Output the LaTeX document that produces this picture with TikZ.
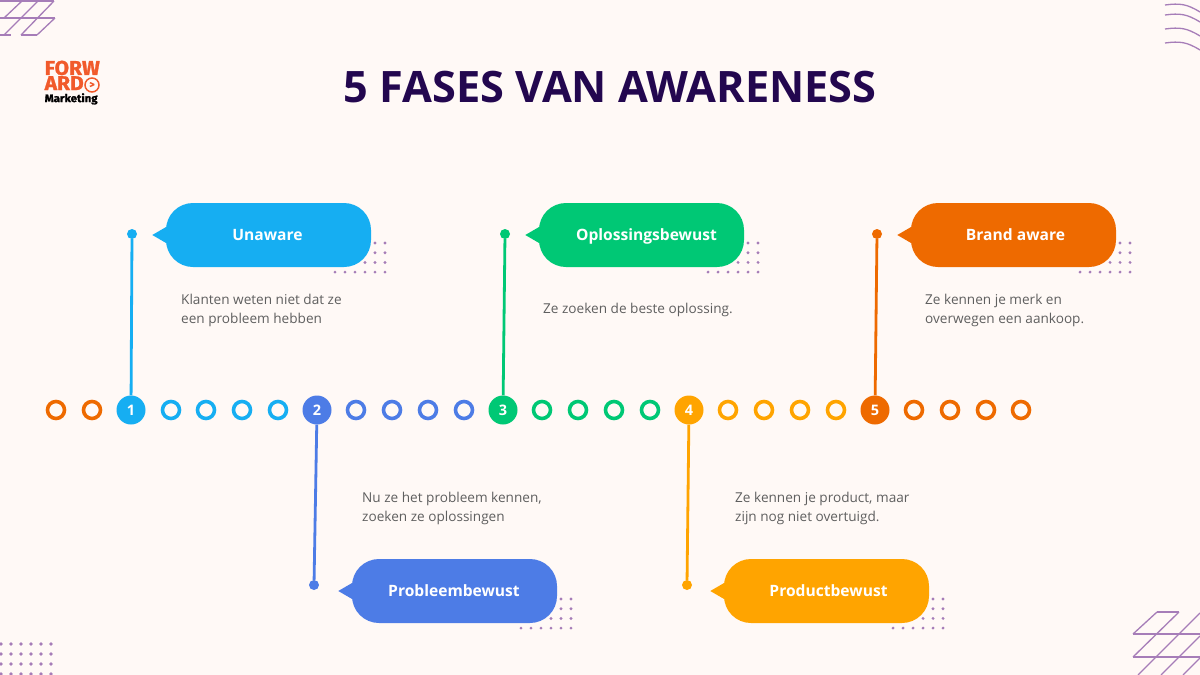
\documentclass[tikz,border=0pt]{standalone}
\usepackage{fontspec}
\setmainfont{Open Sans}
\newfontfamily\logofont{Fira Sans}[BoldFeatures={FakeBold=1.2}]
\usetikzlibrary{calc, positioning}
\definecolor{pagebg}{HTML}{FFF9F6}
\definecolor{titleviolet}{HTML}{23074F}
\definecolor{decopurple}{HTML}{A67DB8}
\definecolor{bodygrey}{HTML}{5F5F5F}
\definecolor{logored}{HTML}{F15A2B}
\definecolor{fasea}{HTML}{16AEF2}
\definecolor{faseb}{HTML}{4D7CE6}
\definecolor{fasec}{HTML}{00C875}
\definecolor{fased}{HTML}{FFA400}
\definecolor{fasee}{HTML}{EE6A00}
\tikzset{
  ring/.style={draw=#1, circle, line width=3.6pt, minimum size=17pt, inner sep=0pt},
  numdot/.style={fill=#1, circle, minimum size=29pt, inner sep=0pt, text=white, font=\fontsize{14.5}{16}\selectfont\bfseries},
  enddot/.style={fill=#1, circle, minimum size=10pt, inner sep=0pt},
  stem/.style={draw=#1, line width=2.8pt},
  bubble/.style={fill=#1, rounded corners=27pt, minimum width=205pt, minimum height=64pt, inner sep=0pt},
  bubbletext/.style={text=white, text height=11pt, text depth=3pt, inner sep=0pt, font=\fontsize{15.6}{17}\selectfont\bfseries},
  bodytext/.style={anchor=north west, align=left, inner sep=0pt, text=bodygrey, font=\fontsize{13.6}{19}\selectfont},
  deco/.style={draw=decopurple, line width=1.3pt},
  speck/.style={fill=decopurple}
}
\begin{document}
\begin{tikzpicture}[x=1pt, y=-1pt]
  \fill[pagebg] (0,0) rectangle (1200,675);
  \useasboundingbox (0,0) rectangle (1200,675);

  % Corner shapes
  \draw[deco] (0,1) -- (54,1) (0,18) -- (55,18) (0,35) -- (11,35) (21,35) -- (37,35);
  \draw[deco] (54,1) -- (21,35) (38,1) -- (4,35) (22,1) -- (4,18) (55,18) -- (37,35);
  \draw[deco] (1133,634) -- (1200,634) (1133,657) -- (1200,657) (1157,612) -- (1179,612);
  \draw[deco] (1157,612) -- (1133,634) (1179,612) -- (1133,657) (1200,613) -- (1138,675) (1200,636) -- (1161,675) (1200,658) -- (1183,675);
  \foreach \yy in {5,15,29,43}
    \draw[deco] (1165,\yy) .. controls (1180,{\yy-2}) and (1187,{\yy-1}) .. (1200,{\yy+7});
  \foreach \xx in {1,11,...,51}
    \foreach \yy in {644,654,664,674}
      \fill[speck] (\xx,\yy) circle (1.8);

  % Logo
  \node[anchor=north west, align=left, inner sep=0pt, xscale=1.05, font=\logofont\bfseries] (logotext) at (44.5,60.5) {%
    \fontsize{20}{17}\selectfont\textcolor{logored}{FORW}\\
    \fontsize{20}{17}\selectfont\textcolor{logored}{ARD}\\
    \fontsize{10.9}{11}\selectfont\textcolor{black}{Marketing}};
  \node[draw=logored, circle, line width=1.5pt, minimum size=14pt, inner sep=0pt, text=logored, font=\logofont\fontsize{10}{10}\selectfont\bfseries] (logoring) at (92,85) {>};

  % Title
  \node[text=titleviolet, font=\fontsize{43.3}{48}\selectfont\bfseries] (title) at (610,87) {5 FASES VAN AWARENESS};

  % Timeline
  \foreach \xx/\col in {56/fasee,92/fasee,171/fasea,206/fasea,242/fasea,278/fasea,356/faseb,392/faseb,428/faseb,464/faseb,542/fasec,578/fasec,614/fasec,650/fasec,728/fased,764/fased,800/fased,836/fased,914/fasee,950/fasee,986/fasee,1021/fasee}
    \node[ring=\col] (ring\xx) at (\xx,410) {};
  \node[numdot=fasea] (numa) at (131,410) {1};
  \node[numdot=faseb] (numb) at (317,410) {2};
  \node[numdot=fasec] (numc) at (503,410) {3};
  \node[numdot=fased] (numd) at (689,410) {4};
  \node[numdot=fasee] (nume) at (875,410) {5};

  % Stems
  \node[enddot=fasea] (dota) at (132,234) {};
  \node[enddot=faseb] (dotb) at (314,585) {};
  \node[enddot=fasec] (dotc) at (505,234) {};
  \node[enddot=fased] (dotd) at (687,585) {};
  \node[enddot=fasee] (dote) at (877,234) {};
  \draw[stem=fasea] (numa) -- (dota);
  \draw[stem=faseb] (numb) -- (dotb);
  \draw[stem=fasec] (numc) -- (dotc);
  \draw[stem=fased] (numd) -- (dotd);
  \draw[stem=fasee] (nume) -- (dote);

  % Bubbles, each on its own dots
  \foreach \xx/\yy in {166/203,539/203,911/203,352/559,724/559}
    \foreach \i in {0,...,5}
      \foreach \j in {0,...,3}
        \fill[speck] ({\xx+169+\i*10},{\yy+40+\j*9.7}) circle (1.6);
  \node[bubble=fasea] (bubblea) at (268.5,235) {};
  \node[bubble=faseb] (bubbleb) at (454.5,591) {};
  \node[bubble=fasec] (bubblec) at (641.5,235) {};
  \node[bubble=fased] (bubbled) at (826.5,591) {};
  \node[bubble=fasee] (bubblee) at (1013.5,235) {};
  \foreach \nm/\col in {bubblea/fasea,bubbleb/faseb,bubblec/fasec,bubbled/fased,bubblee/fasee}
    \fill[\col] ($(\nm.west)+(-13.5,0)$) -- ($(\nm.west)+(2,-9)$) -- ($(\nm.west)+(2,9)$) -- cycle;
  \node[bubbletext] (labela) at (267.5,236) {Unaware};
  \node[bubbletext] (labelb) at (454,592) {Probleembewust};
  \node[bubbletext] (labelc) at (646.5,236) {Oplossingsbewust};
  \node[bubbletext] (labeld) at (828.5,592) {Productbewust};
  \node[bubbletext] (labele) at (1015.5,236) {Brand aware};

  % Phase texts
  \node[bodytext] (texta) at (181,293.5) {Klanten weten niet dat ze\\een probleem hebben};
  \node[bodytext] (textb) at (362,491.5) {Nu ze het probleem kennen,\\zoeken ze oplossingen};
  \node[bodytext] (textc) at (543,302.5) {Ze zoeken de beste oplossing.};
  \node[bodytext] (textd) at (735,491.5) {Ze kennen je product, maar\\zijn nog niet overtuigd.};
  \node[bodytext] (texte) at (925,293.5) {Ze kennen je merk en\\overwegen een aankoop.};
\end{tikzpicture}
\end{document}
